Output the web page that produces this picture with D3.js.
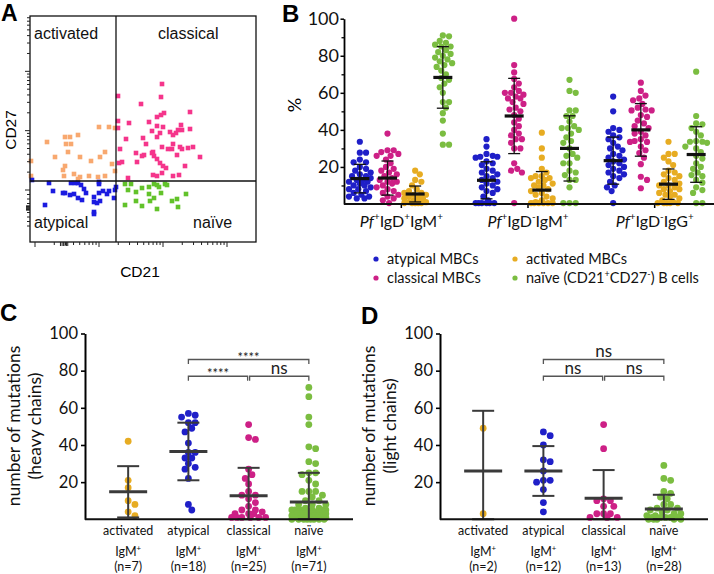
<!DOCTYPE html>
<html><head><meta charset="utf-8">
<script src="https://cdn.jsdelivr.net/npm/d3@7"></script>
<style>body{margin:0;background:#fff}svg{display:block}</style>
</head><body>
<svg id="chart" width="714" height="574"></svg>
<script>
// ---------------- DATA ----------------
// Panel A: flow plot, display units (CD21, CD27)
const facsGateCD21 = 86, facsGateCD27 = 61;
const facsActivated = [[17,100],[25,85],[35,105],[40,105],[36,98],[41,98],[48,107],[38,90],[50,85],[35,76],[33,72],[34,66],[44,68],[50,65],[48,63],[59,66],[61,81],[70,85],[75,90],[69,115],[79,115],[85,114],[82,78],[75,66],[68,65],[1,81],[1,66],[85,71]];
const facsClassical = [[132,158],[131,145],[88,146],[111,138],[160,130],[134,129],[131,127],[127,125],[119,120],[99,119],[88,121],[88,114],[127,116],[133,115],[151,117],[160,113],[122,111],[130,109],[140,110],[143,107],[146,109],[148,112],[152,112],[96,103],[113,104],[127,105],[90,93],[106,89],[112,86],[114,87],[116,98],[122,89],[124,86],[123,90],[132,95],[143,98],[150,95],[152,93],[158,94],[163,95],[170,85],[138,93],[127,83],[130,79],[133,76],[132,69],[136,74],[142,93],[147,87],[155,76],[123,67],[127,66],[143,66],[149,67],[98,64],[92,80],[89,79],[107,80]];
const facsAtypical = [[2,62],[19,59],[23,51],[33,49],[35,49],[40,47],[44,48],[41,59],[48,59],[51,57],[54,53],[56,49],[48,44],[52,42],[15,37],[64,45],[69,60],[69,58],[69,49],[73,51],[77,48],[79,51],[64,40],[67,39],[70,41],[64,30],[64,28],[84,44],[85,52],[86,55],[45,59]];
const facsNaive = [[95,58],[101,58],[98,52],[106,50],[112,54],[119,55],[124,58],[127,57],[129,55],[135,58],[137,57],[131,49],[119,48],[124,44],[120,41],[95,37],[106,41],[112,36],[127,33],[142,41],[147,43],[156,48],[148,35]];
const facsQuadrants = ["activated","classical","atypical","naïve"];

// Panel B: % of Pf+ cells
const groupsB = ["~Pf~^+IgD^+IgM^+","~Pf~^+IgD^-IgM^+","~Pf~^+IgD^-IgG^+"];
const typesB = ["atypical","classical","activated","naive"];
const legendB = ["atypical MBCs","classical MBCs","activated MBCs","naïve (CD21^+CD27^-) B cells"];
const ticksB = [20,40,60,80,100];
const pctAtypical = [
 [33.6,27.7,27.7,24,22.5,22.5,20,19,18,17,16,15,15,14,13,13,12,12,11,10,10,9,8,8,7,6,5,4,4,3,3],
 [35,31,27,26,25.5,25.5,25,23,22,21,19,18,17,16,15,14,13,12,11,10,9,8,7,6,4,2,0.5,0.5,0.5,0.5,0.5,0.5],
 [58,50,41,40,39,37,36,35,33,31,30,29,27,26,25,24,23,22,21,20,19,18,17,16,15,14,12,10,9,7,0.5]];
const pctClassical = [
 [38,29,29,28,27,26,26,24,22,20,19,18,17,16,15,14,13,12,12,11,10,9,8,7,6,5,4,3,2,0.5],
 [100,75,71,67.5,65,63,61,60,60,59,58,57,57,55,54,52,51,50,48,46,44,42,40,38,37,35,35,33,30,30,22,19,18,17,0.5],
 [65.5,61,58.5,57,56,54,52,51,50.5,50.5,48,47,45,43.5,42,41,39,38,37,35,34,33.5,33.5,31,29,27.5,25,21.5,14.7,13,8.5]];
const pctActivated = [
 [18,16,13,12,10,8,7,6,6,5,5,4,4,3,3,2,2,1,1,0.5,0.5,0.5,0.5,0.5],
 [38.5,30,25,19,17,15,15,14,14,13,12,11,10,10,9,8,7,6,5,4,3,2,1,0.5,0.5,0.5,0.5,0.5,0.5],
 [33.6,27,27,25,23,21,18,17,16,15,14,13,12,11,10,10,9,8,8,7,6,5,5,4,3,2,1,0.5,0.5,0.5,0.5,0.5]];
const pctNaive = [
 [91,90.5,88,87,86,85,85,83,82,81,80,79,78,77,76,75,74,72,70,68,67,65,63,60,55,55,52,49,45,38,32,32],
 [67,61,60,50.5,50.5,47.5,47.5,44.5,42,41,41,40,38,36,34,33,30,27,26,25,22,22,18,17,15.6,13,13,9,0.5,0.5,0.5],
 [71.4,47.5,43.5,43,41,39,37,34,33.6,33.6,33,31,30,28,26,24.5,22,20,19,17,15.6,15,13,11.5,9,7.5,6,0.5,0.5]];
const meanB = {atypical:[13.7,12.8,23.4], classical:[14,47.5,40], activated:[5.4,7.5,10.7], naive:[68.3,30,26.7]};
const sdB   = {atypical:[7.7,10,12.7],    classical:[9.2,20.3,14.2], activated:[4.3,10,8.2], naive:[16.6,17.6,15]};

// Panels C & D: number of mutations
const mutCategories = ["activated","atypical","classical","naïve"];
const mutTicks = [20,40,60,80,100];
const nHeavy = [7,18,25,71];
const heavyActivated = [42,21,17,10,8,4,2];
const heavyAtypical = [57,56,55,52,52,49,47,41,36,36,33,33,30,28,27,22,8,5];
const heavyClassical = [51,44,43,27,24,22,19,15,13,13,11,9,7,5,5,4,3,3,3,1,1,1,1,1,1];
const heavyNaive = [71,66,55,51,39,38,31,30,25,25,24,21,19,15,15,15,13,12,10,10,8,8,8,6,6,5,5,5,5,5,5,4,4,4,4,4,4,4,4,3,3,3,3,3,3,3,3,2,2,2,2,2,2,2,2,1,1,1,1,1,1,1,1,0,0,0,0,0,0,0,0];
const heavyMean = [14.8,36.5,12.7,9.3];
const heavySD = [13.8,15.5,15,15.7];
const heavySig = ["****","****","ns"];
const nLight = [2,12,13,28];
const lightActivated = [49,3];
const lightAtypical = [47,45,40,32,31,26,21,21,20,16,9,4];
const lightClassical = [51,38,11,10,10,7,7,3,3,3,1,1,1];
const lightNaive = [29,22,21,15,14,12,11,8,8,6,6,5,5,4,3,3,2,2,1,1,1,1,1,0,0,0,0,0];
const lightMean = [26,26,11.3,5.5];
const lightSD = [32.4,13.4,15.2,7.7];
const lightSig = ["ns","ns","ns"];

// ---------------- STYLE ----------------
const FA = "'Liberation Sans', Arial, Helvetica, sans-serif";
const FB = "Lato, 'Open Sans', sans-serif";
const colA = {activated:"#f8a86f", classical:"#f5358b", atypical:"#1b1be0", naive:"#62c22a"};
const col = {atypical:"#1f1fc8", classical:"#cd2086", activated:"#e7ac22", naive:"#7bbd41"};
const mutColors = [col.activated, col.atypical, col.classical, col.naive];
const svg = d3.select("#chart");

function rich(sel, str, fs) {
  // ~ toggles italics, ^c makes c superscript
  let it = false, shift = 0, buf = "";
  const parts = [];
  for (let i = 0; i < str.length; i++) {
    const c = str[i];
    if (c === "~") { if (buf) parts.push({t:buf,it,sup:false}); buf=""; it=!it; }
    else if (c === "^") { if (buf) parts.push({t:buf,it,sup:false}); buf=""; parts.push({t:str[++i],it:false,sup:true}); }
    else buf += c;
  }
  if (buf) parts.push({t:buf,it,sup:false});
  parts.forEach(p => {
    const ts = sel.append("tspan").text(p.t);
    const target = p.sup ? -fs*0.42 : 0;
    if (target !== shift) { ts.attr("dy", target - shift); shift = target; }
    if (p.sup) ts.attr("font-size", fs*0.62);
    if (p.it) ts.attr("font-style","italic");
  });
}

function swarm(values, y, r, maxHalf) {
  const pts = values.map(v => ({v, y:y(v), dx:0})).sort((a,b)=>b.v-a.v);
  const placed = [], step = r*0.5, minD = 2*r*0.95;
  for (const p of pts) {
    let best = 0, bestScore = -Infinity;
    for (let k = 0; ; k++) {
      const off = k === 0 ? 0 : (k%2 ? 1 : -1)*Math.ceil(k/2)*step;
      if (Math.abs(off) > maxHalf) break;
      let md = Infinity;
      for (const q of placed) md = Math.min(md, Math.hypot(off-q.dx, p.y-q.y));
      if (md >= minD) { best = off; break; }
      if (md > bestScore) { bestScore = md; best = off; }
    }
    p.dx = best; placed.push(p);
  }
  return pts;
}

// ---------------- PANEL A ----------------
(function(){
  const g = svg.append("g");
  const x = d3.scaleLinear().domain([0,226]).range([30,256]);
  const y = d3.scaleLinear().domain([0,226]).range([242,16]);
  const sets = [[facsActivated,colA.activated],[facsClassical,colA.classical],[facsAtypical,colA.atypical],[facsNaive,colA.naive]];
  sets.forEach(([pts,c]) => g.append("g").selectAll("rect").data(pts).join("rect")
    .attr("x", d=>x(d[0])-2.3).attr("y", d=>y(d[1])-2.3).attr("width",4.6).attr("height",4.6).attr("fill",c));
  g.append("rect").attr("x",x(0)).attr("y",y(226)).attr("width",x(226)-x(0)).attr("height",y(0)-y(226))
    .attr("fill","none").attr("stroke","#111").attr("stroke-width",1.3);
  g.append("line").attr("x1",x(facsGateCD21)).attr("x2",x(facsGateCD21)).attr("y1",y(0)).attr("y2",y(226)).attr("stroke","#111").attr("stroke-width",1.3);
  g.append("line").attr("x1",x(0)).attr("x2",x(226)).attr("y1",y(facsGateCD27)).attr("y2",y(facsGateCD27)).attr("stroke","#111").attr("stroke-width",1.3);
  // decorative log/biexponential ticks
  const yLog = d3.scaleLog().domain([1e2,1e5]).range([190,12]);
  const yLin = d3.scaleLinear().domain([100,-100]).range([190,226]);
  const xLog = d3.scaleLog().domain([1e2,1e5]).range([35,227]);
  const isMaj = v => Math.abs(Math.log10(v) - Math.round(Math.log10(v))) < 1e-9;
  const yt = yLog.ticks().filter(v=>yLog(v)>=16).map(v=>({p:yLog(v),L:isMaj(v)?5:3}))
    .concat([75,50,25,-25,-50,-75,-100].map(v=>({p:yLin(v),L:3})))
    .concat([-12,-8,-4,0,4,8,12].map(v=>({p:yLin(v),L:4})));
  g.append("g").selectAll("line").data(yt).join("line").attr("x1",d=>30-d.L).attr("x2",30).attr("y1",d=>d.p).attr("y2",d=>d.p).attr("stroke","#222").attr("stroke-width",1);
  const xt = xLog.ticks().filter(v=>xLog(v)<=256).map(v=>({p:xLog(v),L:isMaj(v)?5:3}))
    .concat([250,265,280,295,310,325].map(v=>({p:xLog(v),L:4})));
  g.append("g").selectAll("line").data(xt).join("line").attr("y1",242).attr("y2",d=>242+d.L).attr("x1",d=>d.p).attr("x2",d=>d.p).attr("stroke","#222").attr("stroke-width",1);
  const t = (s,xx,yy,anchor) => g.append("text").attr("x",xx).attr("y",yy).attr("text-anchor",anchor||"start").attr("font-family",FA).attr("font-size",16).attr("fill","#111").text(s);
  t(facsQuadrants[0], x(4), y(203));
  t(facsQuadrants[1], x(128), y(203));
  t(facsQuadrants[2], x(4), y(14));
  t(facsQuadrants[3], x(163), y(14));
  g.append("text").attr("transform","translate(16,130) rotate(-90)").attr("text-anchor","middle").attr("font-family",FA).attr("font-size",15.5).text("CD27");
  g.append("text").attr("x",140).attr("y",277).attr("text-anchor","middle").attr("font-family",FA).attr("font-size",15.5).text("CD21");
  g.append("text").attr("x",1).attr("y",21).attr("font-family",FA).attr("font-weight","bold").attr("font-size",23).text("A");
})();

// ---------------- PANEL B ----------------
(function(){
  const g = svg.append("g");
  const y = d3.scaleLinear().domain([0,100]).range([204,18.7]);
  const xg = d3.scaleBand().domain(groupsB).range([338,718]);
  const xt = d3.scalePoint().domain(typesB).range([-41.5,41.5]);
  const data = {atypical:pctAtypical, classical:pctClassical, activated:pctActivated, naive:pctNaive};
  groupsB.forEach((grp,gi) => {
    typesB.forEach(tp => {
      const cx = xg(grp) + xg.bandwidth()/2 + xt(tp);
      const pts = swarm(data[tp][gi], y, 3.1, 11);
      g.append("g").selectAll("circle").data(pts).join("circle")
        .attr("cx", d=>cx+d.dx).attr("cy", d=>d.y).attr("r",3.1).attr("fill",col[tp]);
    });
  });
  groupsB.forEach((grp,gi) => {
    typesB.forEach(tp => {
      const cx = xg(grp) + xg.bandwidth()/2 + xt(tp);
      const m = meanB[tp][gi], s = sdB[tp][gi];
      const lo = Math.max(0, m-s), hi = m+s;
      const eb = g.append("g").attr("stroke","#111");
      eb.append("line").attr("x1",cx).attr("x2",cx).attr("y1",y(lo)).attr("y2",y(hi)).attr("stroke-width",1.3);
      eb.append("line").attr("x1",cx-6).attr("x2",cx+6).attr("y1",y(hi)).attr("y2",y(hi)).attr("stroke-width",1.3);
      eb.append("line").attr("x1",cx-6).attr("x2",cx+6).attr("y1",y(lo)).attr("y2",y(lo)).attr("stroke-width",1.3);
      eb.append("line").attr("x1",cx-9.5).attr("x2",cx+9.5).attr("y1",y(m)).attr("y2",y(m)).attr("stroke-width",3.2);
    });
  });
  const ax = g.append("g").attr("transform","translate(344,0)")
    .call(d3.axisLeft(y).tickValues(ticksB).tickSize(3.5).tickPadding(1.5).tickSizeOuter(0).tickFormat(d3.format("d")));
  ax.select(".domain").attr("stroke-width",1.8);
  ax.selectAll(".tick line").attr("stroke-width",1.5);
  ax.selectAll("text").attr("font-family",FB).attr("font-size",18).attr("fill","#111");
  g.append("g").attr("transform","translate(344,0)")
    .call(d3.axisLeft(y).tickValues(d3.range(10,100,20)).tickSize(2.5).tickFormat(""))
    .call(a=>a.select(".domain").remove()).selectAll("line").attr("stroke-width",1.3);
  const bx = g.append("g").attr("transform",`translate(0,${y(0)})`)
    .call(d3.axisBottom(xg).tickSize(4).tickFormat(""));
  bx.select(".domain").remove();
  bx.selectAll(".tick line").attr("stroke-width",1.5);
  g.append("line").attr("x1",344).attr("x2",714).attr("y1",y(0)).attr("y2",y(0)).attr("stroke","#111").attr("stroke-width",1.8);
  groupsB.forEach(grp => {
    const t = g.append("text").attr("x", xg(grp)+xg.bandwidth()/2).attr("y",227).attr("text-anchor","middle")
      .attr("font-family",FB).attr("font-size",16).attr("fill","#111");
    rich(t, grp, 16);
  });
  g.append("text").attr("transform","translate(301,105) rotate(-90)").attr("text-anchor","middle").attr("font-family",FB).attr("font-size",18).text("%");
  const legPos = [[376,259],[376,278],[515,259],[515,278]];
  const legCol = [col.atypical, col.classical, col.activated, col.naive];
  legendB.forEach((s,i) => {
    g.append("circle").attr("cx",legPos[i][0]).attr("cy",legPos[i][1]).attr("r",2.6).attr("fill",legCol[i]);
    const t = g.append("text").attr("x",legPos[i][0]+11).attr("y",legPos[i][1]+5).attr("font-family",FB).attr("font-size",14.5).attr("fill","#111");
    rich(t, s, 14.5);
  });
  g.append("text").attr("x",282).attr("y",22).attr("font-family",FA).attr("font-weight","bold").attr("font-size",24).text("B");
})();

// ---------------- PANELS C & D ----------------
function mutPanel(cfg) {
  const g = svg.append("g");
  const y = d3.scaleLinear().domain([0,100]).range([519.3,333.5]);
  const x = d3.scalePoint().domain(mutCategories).range([cfg.axisX+1, cfg.axisX+266]).padding(0.7);
  mutCategories.forEach((c,i) => {
    const pts = swarm(cfg.values[i], y, 3.4, 17);
    g.append("g").selectAll("circle").data(pts).join("circle")
      .attr("cx", d=>x(c)+d.dx).attr("cy", d=>d.y).attr("r",3.4).attr("fill",mutColors[i]);
  });
  mutCategories.forEach((c,i) => {
    const cx = x(c), m = cfg.mean[i], s = cfg.sd[i];
    const lo = Math.max(0,m-s), hi = m+s;
    const eb = g.append("g").attr("stroke","#3a3a3a");
    eb.append("line").attr("x1",cx).attr("x2",cx).attr("y1",y(lo)).attr("y2",y(hi)).attr("stroke-width",2);
    eb.append("line").attr("x1",cx-11).attr("x2",cx+11).attr("y1",y(hi)).attr("y2",y(hi)).attr("stroke-width",2);
    eb.append("line").attr("x1",cx-11).attr("x2",cx+11).attr("y1",y(lo)).attr("y2",y(lo)).attr("stroke-width",2);
    eb.append("line").attr("x1",cx-19).attr("x2",cx+19).attr("y1",y(m)).attr("y2",y(m)).attr("stroke-width",3);
  });
  const ax = g.append("g").attr("transform",`translate(${cfg.axisX},0)`)
    .call(d3.axisLeft(y).tickValues(mutTicks).tickSize(4).tickPadding(3).tickSizeOuter(0).tickFormat(d3.format("d")));
  ax.select(".domain").attr("stroke-width",2);
  ax.selectAll(".tick line").attr("stroke-width",1.6);
  ax.selectAll("text").attr("font-family",FB).attr("font-size",16.5).attr("fill","#111");
  g.append("line").attr("x1",cfg.axisX).attr("x2",cfg.axisX+268).attr("y1",y(0)).attr("y2",y(0)).attr("stroke","#111").attr("stroke-width",2);
  // brackets: [from, to, level]
  const br = [[1,3,86],[1,2,77],[2,3,77]];
  br.forEach((b,i) => {
    const x1 = x(mutCategories[b[0]]) + (i===2?1:0), x2 = x(mutCategories[b[1]]) - (i===1?1:0);
    const yy = y(b[2]);
    g.append("path").attr("d",`M${x1},${yy+4.5}V${yy}H${x2}V${yy+4.5}`).attr("fill","none").attr("stroke","#555").attr("stroke-width",1.3);
    const lab = cfg.sig[i], star = lab.includes("*");
    g.append("text").attr("x",(x1+x2)/2).attr("y", star ? yy+2 : yy-2.5).attr("text-anchor","middle")
      .attr("font-family",FB).attr("font-size", star ? 13 : 17).attr("fill","#222").text(lab);
  });
  mutCategories.forEach((c,i) => {
    const mk = (yy, s) => { const t = g.append("text").attr("x",x(c)).attr("y",yy).attr("text-anchor","middle")
      .attr("font-family",FB).attr("font-size",12.5).attr("fill","#111"); rich(t, s, 12.5); };
    mk(535, c); mk(556, "IgM^+"); mk(571, `(n=${cfg.n[i]})`);
  });
  const yt = g.append("text").attr("transform",`translate(${cfg.axisX-65},426) rotate(-90)`).attr("text-anchor","middle")
    .attr("font-family",FB).attr("font-size",17.5).attr("fill","#111");
  yt.append("tspan").attr("x",0).attr("y",0).text("number of mutations");
  yt.append("tspan").attr("x",0).attr("y",20.5).text(cfg.sub);
  g.append("text").attr("x",cfg.labelX).attr("y",cfg.labelY).attr("font-family",FA).attr("font-weight","bold").attr("font-size",24).text(cfg.label);
}
mutPanel({axisX:85, values:[heavyActivated,heavyAtypical,heavyClassical,heavyNaive], mean:heavyMean, sd:heavySD, n:nHeavy, sig:heavySig, sub:"(heavy chains)", label:"C", labelX:0, labelY:321});
mutPanel({axisX:440, values:[lightActivated,lightAtypical,lightClassical,lightNaive], mean:lightMean, sd:lightSD, n:nLight, sig:lightSig, sub:"(light chains)", label:"D", labelX:361, labelY:324});
</script>
</body></html>
